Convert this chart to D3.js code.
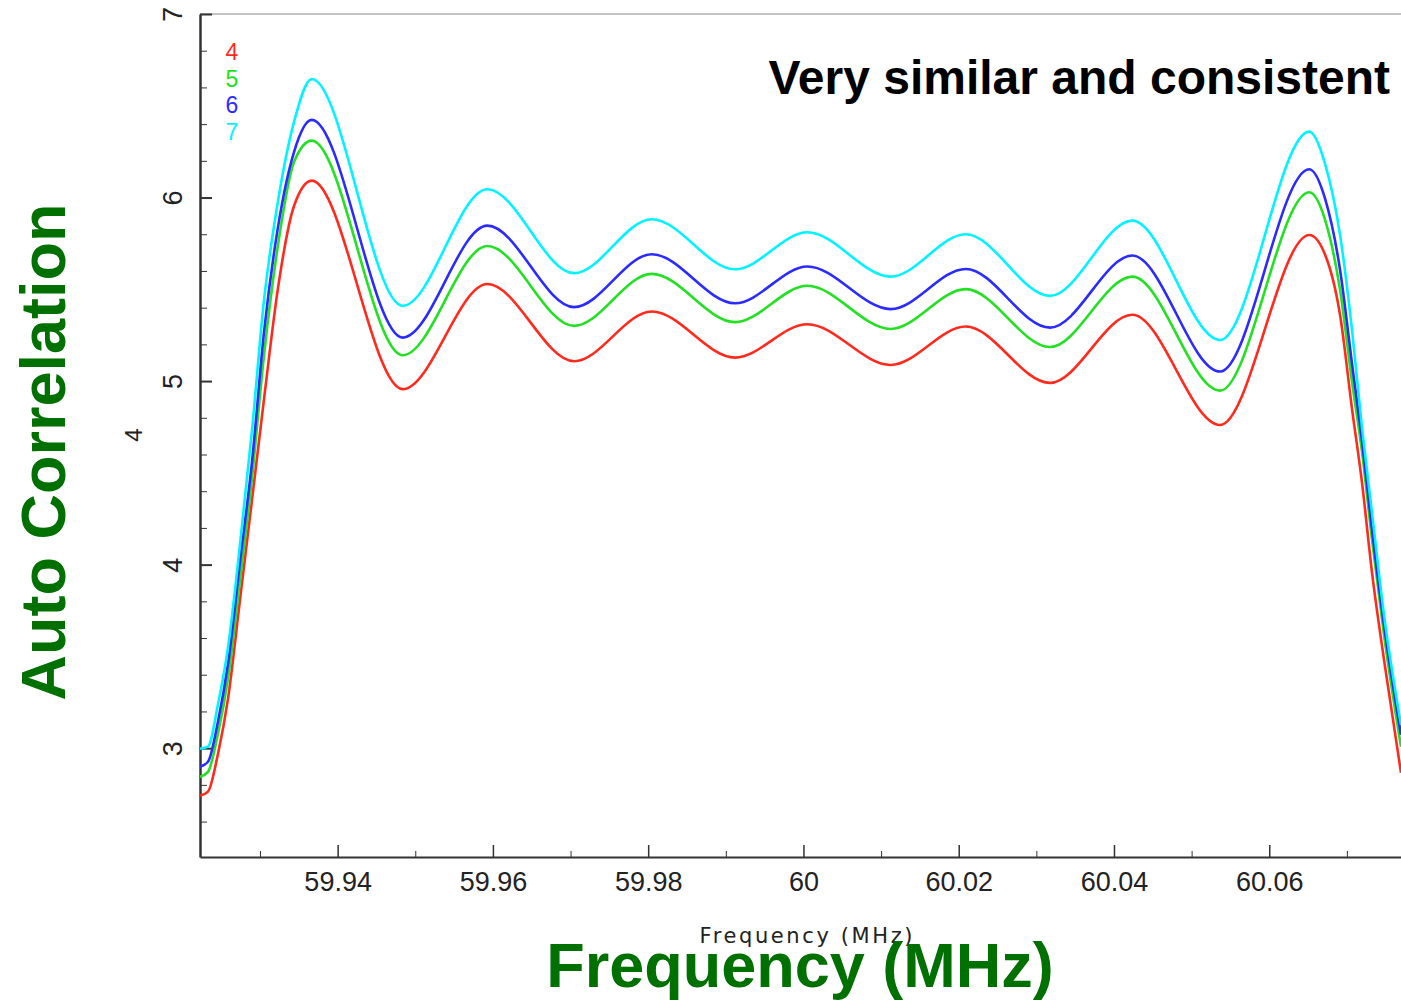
<!DOCTYPE html>
<html>
<head>
<meta charset="utf-8">
<script src="https://cdn.jsdelivr.net/npm/d3@7"></script>
<style>
  body { margin: 0; background: #fff; }
  .tickText { font-family: "Liberation Sans", Arial, sans-serif; font-size: 27px; fill: #222; }
  .axis path, .axis line { stroke: #333; }
  .bigLabel { font-family: "Liberation Sans", Arial, sans-serif; font-weight: bold; font-size: 63px; fill: #007000; }
</style>
</head>
<body>
<svg></svg>
<script>
// frequency samples (MHz)
var freq = [59.92227, 59.92330, 59.92459, 59.92588, 59.92742, 59.92897, 59.93052, 59.93232, 59.93438, 59.93666,
            59.94838, 59.95928, 59.97045, 59.98046, 59.99119, 60.00050, 60.01124, 60.02090, 60.03176, 60.04236,
            60.05366, 60.06516, 60.06718, 60.06912, 60.07066, 60.07195, 60.07324, 60.07478, 60.07697];

var series4 = [2.741, 2.763, 2.970, 3.270, 3.808, 4.353, 4.903, 5.508, 5.954, 6.092,
               4.956, 5.529, 5.108, 5.379, 5.128, 5.310, 5.088, 5.297, 4.990, 5.361,
               4.761, 5.796, 5.690, 5.360, 4.849, 4.446, 3.955, 3.482, 2.866];
var series5 = [2.844, 2.871, 3.080, 3.380, 3.917, 4.473, 5.143, 5.742, 6.194, 6.310,
               5.141, 5.736, 5.301, 5.584, 5.321, 5.519, 5.284, 5.501, 5.186, 5.569,
               4.948, 6.029, 5.880, 5.497, 4.996, 4.614, 4.135, 3.618, 3.008];
var series6 = [2.899, 2.926, 3.145, 3.460, 4.015, 4.560, 5.268, 5.840, 6.248, 6.423,
               5.237, 5.847, 5.403, 5.691, 5.424, 5.624, 5.392, 5.611, 5.291, 5.684,
               5.052, 6.154, 5.995, 5.606, 5.094, 4.674, 4.190, 3.672, 3.073];
var series7 = [2.997, 3.008, 3.240, 3.550, 4.110, 4.734, 5.442, 5.981, 6.412, 6.646,
               5.410, 6.045, 5.588, 5.882, 5.609, 5.811, 5.569, 5.800, 5.464, 5.874,
               5.224, 6.359, 6.185, 5.796, 5.279, 4.745, 4.282, 3.727, 3.127];

var seriesNames = ["4", "5", "6", "7"];
var seriesColors = ["#ff2a1e", "#22e022", "#2b2bff", "#00f4ff"];

var xMajorTicks = [59.94, 59.96, 59.98, 60, 60.02, 60.04, 60.06];
var xMinorTicks = [59.93, 59.95, 59.97, 59.99, 60.01, 60.03, 60.05, 60.07];
var yMajorTicks = [3, 4, 5, 6, 7];
var yMinorTicks = [2.6, 2.8, 3.2, 3.4, 3.6, 3.8, 4.2, 4.4, 4.6, 4.8, 5.2, 5.4, 5.6, 5.8, 6.2, 6.4, 6.6, 6.8];

var width = 1401, height = 1001;
var margin = {top: 14, right: 0, bottom: 144, left: 200};

var svg = d3.select("svg")
  .attr("width", width)
  .attr("height", height);

var x = d3.scaleLinear()
  .domain([59.92227, 60.07697])
  .range([margin.left, width - margin.right]);
var y = d3.scaleLinear()
  .domain([2.407, 7])
  .range([height - margin.bottom, margin.top]);

// top frame line
svg.append("line")
  .attr("x1", margin.left).attr("x2", width)
  .attr("y1", margin.top).attr("y2", margin.top)
  .attr("stroke", "#c4c4c4")
  .attr("stroke-width", 2);

// minor ticks
svg.append("g")
  .attr("class", "axis")
  .attr("transform", "translate(0," + (height - margin.bottom) + ")")
  .call(d3.axisBottom(x).tickValues(xMinorTicks).tickSize(-6).tickFormat(""))
  .call(function(g) { g.select(".domain").remove(); });
svg.append("g")
  .attr("class", "axis")
  .attr("transform", "translate(" + margin.left + ",0)")
  .call(d3.axisLeft(y).tickValues(yMinorTicks).tickSize(-7).tickFormat(""))
  .call(function(g) { g.select(".domain").remove(); });

// major ticks + labels
var xAxis = svg.append("g")
  .attr("class", "axis")
  .attr("transform", "translate(0," + (height - margin.bottom) + ")")
  .call(d3.axisBottom(x).tickValues(xMajorTicks).tickSize(-12).tickSizeOuter(0).tickPadding(15).tickFormat(d3.format("")));
xAxis.select(".domain").attr("stroke-width", 2);
xAxis.selectAll("line").attr("stroke-width", 1.5);
xAxis.selectAll("text").attr("class", "tickText");

var yAxis = svg.append("g")
  .attr("class", "axis")
  .attr("transform", "translate(" + margin.left + ",0)")
  .call(d3.axisLeft(y).tickValues(yMajorTicks).tickSize(-12).tickSizeOuter(0).tickFormat(d3.format("d")));
yAxis.select(".domain").attr("stroke-width", 2.5);
yAxis.selectAll("line").attr("stroke-width", 2);
yAxis.selectAll("text")
  .attr("class", "tickText")
  .attr("x", null)
  .attr("dy", null)
  .attr("text-anchor", "middle")
  .attr("transform", "translate(-18,0) rotate(-90)");

// original small axis titles
svg.append("text")
  .attr("class", "tickText")
  .attr("transform", "translate(142,435) rotate(-90)")
  .attr("text-anchor", "middle")
  .style("font-size", "24px")
  .text("4");

svg.append("text")
  .attr("x", 806)
  .attr("y", 943)
  .attr("text-anchor", "middle")
  .attr("textLength", 213)
  .style("font-family", "'DejaVu Sans', sans-serif")
  .style("font-size", "21px")
  .style("fill", "#222")
  .text("Frequency (MHz)");

// curves
var allSeries = [series4, series5, series6, series7];

var line = d3.line()
  .x(function(d, i) { return x(freq[i]); })
  .y(function(d) { return y(d); })
  .curve(d3.curveMonotoneX);

svg.selectAll("path.curve")
  .data(allSeries)
  .enter()
  .append("path")
  .attr("class", "curve")
  .attr("d", line)
  .attr("fill", "none")
  .attr("stroke", function(d, i) { return seriesColors[i]; })
  .attr("stroke-width", 2.6);

// legend
svg.selectAll("text.legend")
  .data(seriesNames)
  .enter()
  .append("text")
  .attr("class", "legend")
  .attr("x", 232)
  .attr("y", function(d, i) { return 60 + i * 26.5; })
  .attr("text-anchor", "middle")
  .style("font-family", "'Liberation Sans', Arial, sans-serif")
  .style("font-size", "23px")
  .style("fill", function(d, i) { return seriesColors[i]; })
  .text(function(d) { return d; });

// annotation
svg.append("text")
  .attr("x", 1390)
  .attr("y", 94)
  .attr("text-anchor", "end")
  .style("font-family", "'Liberation Sans', Arial, sans-serif")
  .style("font-weight", "bold")
  .style("font-size", "48px")
  .style("fill", "#000")
  .text("Very similar and consistent");

// big green labels
svg.append("text")
  .attr("class", "bigLabel")
  .attr("x", 800)
  .attr("y", 987)
  .attr("text-anchor", "middle")
  .text("Frequency (MHz)");

svg.append("text")
  .attr("class", "bigLabel")
  .attr("transform", "translate(65,452) rotate(-90)")
  .attr("text-anchor", "middle")
  .text("Auto Correlation");
</script>
</body>
</html>
